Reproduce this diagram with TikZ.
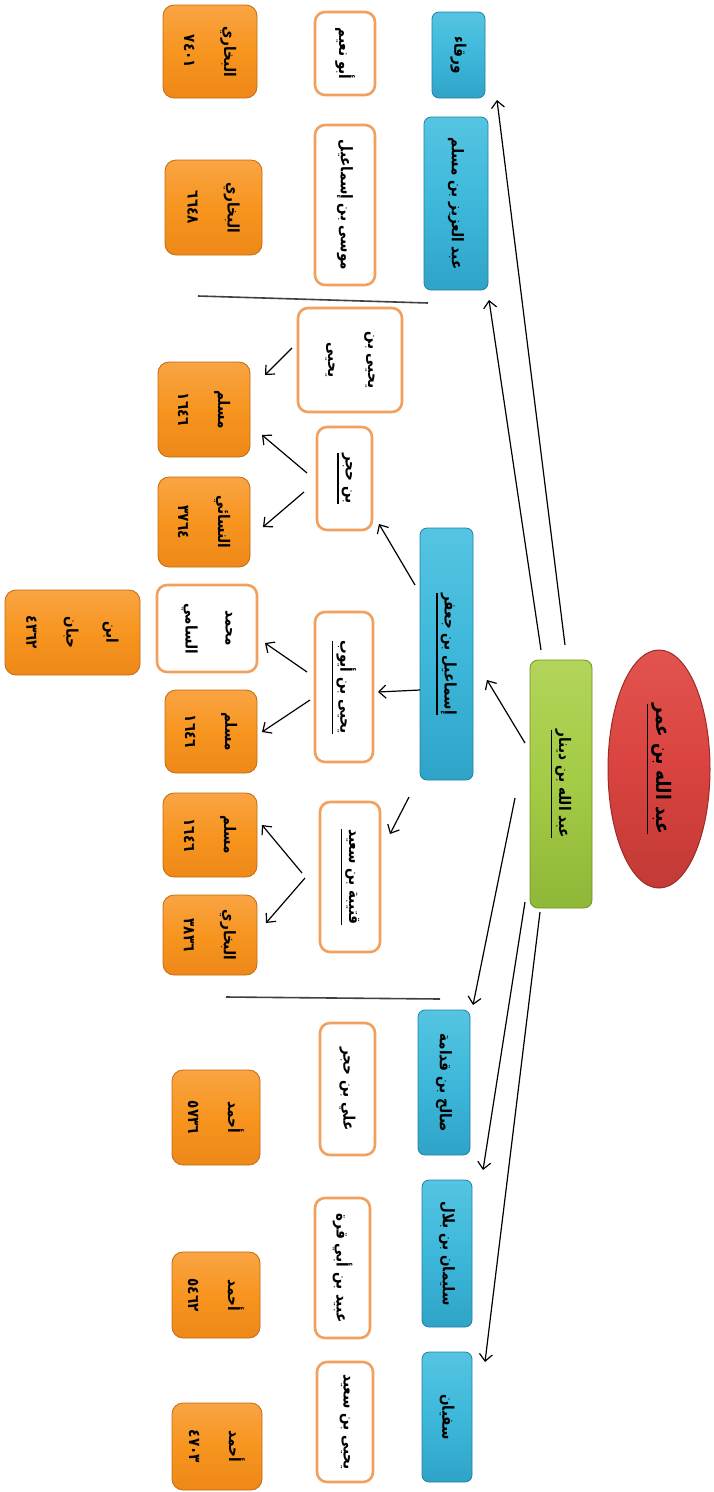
\documentclass[tikz,border=0pt]{standalone}
\usepackage{fontspec}
\TeXXeTstate=1
\newfontfamily\arabicfont[Script=Arabic,FakeStretch=0.85]{DejaVu Sans}
\usetikzlibrary{arrows.meta,shapes.geometric}

% Arabic text, right to left, bold
\newcommand\ar[1]{\arabicfont\bfseries\beginR #1\endR}
% numbers stay left to right
\newcommand\num[1]{{\arabicfont\bfseries #1}}
% thick underline below a name
\newcommand\ul[1]{\vtop{\hbox{#1}\kern3pt\hrule height 1.6pt}}

\definecolor{redfill}{HTML}{D9433F}
\definecolor{redlight}{HTML}{E2544F}
\definecolor{reddark}{HTML}{C23A36}
\definecolor{rededge}{HTML}{9C2B27}
\definecolor{greenlight}{HTML}{B2D45A}
\definecolor{greenmid}{HTML}{A3CB45}
\definecolor{greendark}{HTML}{8FB738}
\definecolor{greenedge}{HTML}{6F9225}
\definecolor{bluelight}{HTML}{55C4E2}
\definecolor{bluemid}{HTML}{3DB8DA}
\definecolor{bluedark}{HTML}{2FA3C8}
\definecolor{blueedge}{HTML}{2380A3}
\definecolor{orangelight}{HTML}{F9A443}
\definecolor{orangemid}{HTML}{F7951F}
\definecolor{orangedark}{HTML}{EE8818}
\definecolor{orangeedge}{HTML}{C26A10}
\definecolor{framecol}{HTML}{F2A05E}

\tikzset{
  base/.style={rotate=-90, inner sep=0pt, align=center,
    font=\fontsize{16}{40}\selectfont},
  rootnode/.style={base, ellipse, draw=rededge, line width=1pt,
    shading=axis, top color=redlight, bottom color=reddark, middle color=redfill,
    font=\fontsize{20}{24}\selectfont},
  hubnode/.style={base, rounded corners=8pt, draw=greenedge, line width=0.8pt,
    shading=axis, top color=greenlight, bottom color=greendark, middle color=greenmid},
  bluebox/.style={base, rounded corners=7pt, draw=blueedge, line width=0.8pt,
    shading=axis, top color=bluelight, bottom color=bluedark, middle color=bluemid},
  whitebox/.style={base, rounded corners=10pt, draw=framecol, line width=2.6pt, fill=white},
  orangebox/.style={base, rounded corners=11pt, draw=orangeedge, line width=0.8pt,
    shading=axis, top color=orangelight, bottom color=orangedark, middle color=orangemid},
  arr/.style={-{Straight Barb[length=7pt,width=13pt]}, line width=1.2pt, black},
  divider/.style={line width=1.6pt, draw=black!75},
}

\begin{document}
\begin{tikzpicture}[x=1pt,y=1pt]
\useasboundingbox (0,0) rectangle (713,-1492);
\fill[white] (0,0) rectangle (713,-1492);

% root and hub
\node[rootnode, minimum width=238pt, minimum height=102pt] (ibnumar) at (659,-769) {\ul{\ar{عبد الله بن عمر}}};
\node[hubnode, minimum width=248pt, minimum height=62pt] (dinar) at (561,-784) {\ul{\ar{عبد الله بن دينار}}};

% students of the hub
\node[bluebox, minimum width=86pt, minimum height=53pt] (waraqa) at (458.5,-55) {\ar{ورقاء}};
\node[bluebox, minimum width=173pt, minimum height=64pt] (abdulaziz) at (456,-203.5) {\ar{عبد العزيز بن مسلم}};
\node[bluebox, minimum width=252pt, minimum height=53pt] (ismail) at (446.5,-654) {\ul{\ar{إسماعيل بن جعفر}}};
\node[bluebox, minimum width=145pt, minimum height=52pt] (salih) at (444,-1082.5) {\ar{صالح بن قدامة}};
\node[bluebox, minimum width=147pt, minimum height=50pt] (sulayman) at (447,-1253.5) {\ar{سليمان بن بلال}};
\node[bluebox, minimum width=130pt, minimum height=50pt] (sufyan) at (447,-1417) {\ar{سفيان}};

% next layer
\node[whitebox, minimum width=83pt, minimum height=60pt] (abunuaym) at (345,-53.5) {\ar{أبو نعيم}};
\node[whitebox, minimum width=160pt, minimum height=60pt] (musa) at (345,-205) {\ar{موسى بن إسماعيل}};
\node[whitebox, minimum width=104pt, minimum height=104pt] (yahyayahya) at (350,-360) {\ar{يحيى بن}\\\ar{يحيى}};
\node[whitebox, minimum width=103pt, minimum height=55pt] (binhajar) at (344.5,-478.5) {\ul{\ar{بن حجر}}};
\node[whitebox, minimum width=150pt, minimum height=58pt] (yahyaayyub) at (344,-687) {\ul{\ar{يحيى بن أيوب}}};
\node[whitebox, minimum width=87pt, minimum height=100pt] (muhammad) at (207,-628.5) {\ar{محمد}\\\ar{السامي}};
\node[whitebox, minimum width=150pt, minimum height=60pt] (qutayba) at (350,-877) {\ul{\ar{قتيبة بن سعيد}}};
\node[whitebox, minimum width=132pt, minimum height=55pt] (ali) at (347.5,-1089) {\ar{علي بن حجر}};
\node[whitebox, minimum width=140pt, minimum height=55pt] (ubayd) at (342.5,-1268) {\ar{عبيد بن أبي قرة}};
\node[whitebox, minimum width=120pt, minimum height=56pt] (yahyasaid) at (345,-1422) {\ar{يحيى بن سعيد}};

% sources
\node[orangebox, minimum width=93pt, minimum height=94pt] (bukhariA) at (210,-51.5) {\ar{البخاري}\\\num{٧٤٠١}};
\node[orangebox, minimum width=95pt, minimum height=97pt] (bukhariB) at (213.5,-207.5) {\ar{البخاري}\\\num{٦٦٤٨}};
\node[orangebox, minimum width=95pt, minimum height=92pt] (muslimA) at (204,-409.5) {\ar{مسلم}\\\num{١٦٤٦}};
\node[orangebox, minimum width=90pt, minimum height=92pt] (nasai) at (204,-522) {\ar{النسائي}\\\num{٣٧٦٤}};
\node[orangebox, minimum width=85pt, minimum height=135pt] (ibnhibban) at (72.5,-632.5) {\ar{ابن}\\\ar{حبان}\\\num{٤٣٦٢}};
\node[orangebox, minimum width=83pt, minimum height=92pt] (muslimB) at (211,-731.5) {\ar{مسلم}\\\num{١٦٤٦}};
\node[orangebox, minimum width=84pt, minimum height=94pt] (muslimC) at (210,-835) {\ar{مسلم}\\\num{١٦٤٦}};
\node[orangebox, minimum width=80pt, minimum height=94pt] (bukhariC) at (210,-935) {\ar{البخاري}\\\num{٣٨٣٦}};
\node[orangebox, minimum width=95pt, minimum height=88pt] (ahmadA) at (216,-1117.5) {\ar{أحمد}\\\num{٥٧٣٦}};
\node[orangebox, minimum width=86pt, minimum height=88pt] (ahmadB) at (216,-1295) {\ar{أحمد}\\\num{٥٤٦٢}};
\node[orangebox, minimum width=87pt, minimum height=90pt] (ahmadC) at (217,-1446.5) {\ar{أحمد}\\\num{٤٧٠٣}};

% dividers between the chains
\draw[divider] (198,-296) -- (428,-303);
\draw[divider] (226,-997) -- (440,-999);

% hub to its students
\draw[arr] ([shift={(4,139)}]dinar.center) -- ([shift={(38.5,-45)}]waraqa.center);
\draw[arr] ([shift={(-20,134)}]dinar.center) -- ([shift={(33,-96.5)}]abdulaziz.center);
\draw[arr] ([shift={(-36,41)}]dinar.center) -- ([shift={(40.5,-26)}]ismail.center);
\draw[arr] ([shift={(-46,-14)}]dinar.center) -- ([shift={(29,77.5)}]salih.center);
\draw[arr] ([shift={(-36,-118)}]dinar.center) -- ([shift={(36,83.5)}]sulayman.center);
\draw[arr] ([shift={(-21,-128)}]dinar.center) -- ([shift={(38,55)}]sufyan.center);

% Ismail's students
\draw[arr] ([shift={(-31.5,69)}]ismail.center) -- ([shift={(34.5,-45.5)}]binhajar.center);
\draw[arr] ([shift={(-26.5,-36)}]ismail.center) -- ([shift={(34,-5)}]yahyaayyub.center);
\draw[arr] ([shift={(-37.5,-143)}]ismail.center) -- ([shift={(40,43)}]qutayba.center);

% to the sources
\draw[arr] ([shift={(-58,12)}]yahyayahya.center) -- ([shift={(61,34.5)}]muslimA.center);
\draw[arr] ([shift={(-37.5,5.5)}]binhajar.center) -- ([shift={(58,-25.5)}]muslimA.center);
\draw[arr] ([shift={(-40.5,-13.5)}]binhajar.center) -- ([shift={(59,-5)}]nasai.center);
\draw[arr] ([shift={(-37,15)}]yahyaayyub.center) -- ([shift={(58,-14.5)}]muhammad.center);
\draw[arr] ([shift={(-34,-13)}]yahyaayyub.center) -- ([shift={(51,-0.5)}]muslimB.center);
\draw[arr] ([shift={(-48,4)}]qutayba.center) -- ([shift={(52,10)}]muslimC.center);
\draw[arr] ([shift={(-45,-1)}]qutayba.center) -- ([shift={(56,12)}]bukhariC.center);
\end{tikzpicture}
\end{document}
